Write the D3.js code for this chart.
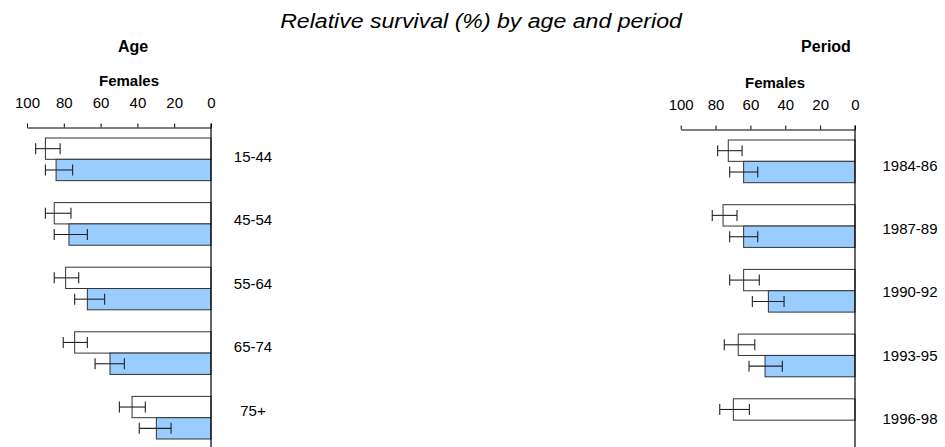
<!DOCTYPE html>
<html><head><meta charset="utf-8">
<script src="https://cdn.jsdelivr.net/npm/d3@7"></script>
<style>
body{margin:0;background:#fff;}
svg{display:block;font-family:"Liberation Sans",Arial,Helvetica,sans-serif;}
</style></head>
<body><svg id="c" width="945" height="447"></svg>
<script>
// ---- data ----
const ageGroups = ["15-44","45-54","55-64","65-74","75+"];
const ageSurv5  = [90.0, 85.2, 79.0, 74.1, 42.9];
const ageLo5    = [82.0, 76.1, 71.9, 67.2, 35.7];
const ageHi5    = [95.3, 90.0, 85.2, 80.3, 49.8];
const ageSurv10 = [84.2, 77.2, 67.2, 54.9, 29.7];
const ageLo10   = [75.2, 67.2, 57.8, 47.1, 21.7];
const ageHi10   = [90.0, 85.2, 74.1, 63.0, 39.0];

const periods      = ["1984-86","1987-89","1990-92","1993-95","1996-98"];
const perSurv5  = [72.7, 75.7, 63.9, 67.0, 69.8];
const perLo5    = [64.8, 67.7, 54.9, 57.5, 60.6];
const perHi5    = [78.8, 81.9, 71.9, 75.0, 77.6];
const perSurv10 = [63.9, 63.9, 49.7, 51.6, null];
const perLo10   = [55.8, 55.8, 40.7, 41.7, null];
const perHi10   = [71.9, 71.9, 58.9, 60.8, null];

const tickValues = [100, 80, 60, 40, 20, 0];
const title = "Relative survival (%) by age and period";

// ---- drawing ----
const svg = d3.select("#c");
const W = 945, H = 447;
const FONT = '"Liberation Sans",Arial,Helvetica,sans-serif';

svg.append("text").attr("transform","translate(481,28) scale(1.1,1)").attr("text-anchor","middle")
  .attr("font-style","italic").attr("font-size", 21).text(title);

function panel(cfg){
  const g = svg.append("g");
  const x = d3.scaleLinear().domain([0,100]).range(cfg.xr);
  const y = d3.scaleBand().domain(cfg.cats).range(cfg.yr).paddingInner(0.34).paddingOuter(0).align(0);
  const sub = d3.scaleBand().domain(["s5","s10"]).range([0, y.bandwidth()]);
  const lab = d3.scalePoint().domain(cfg.cats).range(cfg.labr);

  // header texts
  g.append("text").attr("x", cfg.headX).attr("y", cfg.headY).attr("text-anchor","middle")
    .attr("font-weight","bold").attr("font-size", 16).text(cfg.head);
  g.append("text").attr("x", cfg.femX).attr("y", cfg.femY).attr("text-anchor","middle")
    .attr("font-weight","bold").attr("font-size", 15).text("Females");

  // axis
  const ax = g.append("g").attr("transform", `translate(0,${cfg.axisY})`)
    .call(d3.axisTop(x).tickValues(tickValues).tickSize(4).tickSizeOuter(0).tickPadding(15.5));
  ax.selectAll("text").attr("font-size", 15).attr("font-family", FONT).attr("fill","#000");
  ax.selectAll("line,path").attr("stroke","#000");

  const rows = cfg.cats.map((c,i)=>({c, i}));
  const series = [
    {k:"s5",  v:cfg.s5,  lo:cfg.lo5,  hi:cfg.hi5,  fill:"#ffffff"},
    {k:"s10", v:cfg.s10, lo:cfg.lo10, hi:cfg.hi10, fill:"#99ccff"}
  ];
  series.forEach(s=>{
    const d = rows.filter(r=>s.v[r.i]!=null);
    g.selectAll(null).data(d).enter().append("rect")
      .attr("x", r=>x(s.v[r.i])).attr("width", r=>x(0)-x(s.v[r.i]))
      .attr("y", r=>y(r.c)+sub(s.k)).attr("height", sub.bandwidth())
      .attr("fill", s.fill).attr("stroke","#333").attr("stroke-width",1);
    const eb = g.selectAll(null).data(d).enter().append("g")
      .attr("transform", r=>`translate(0,${y(r.c)+sub(s.k)+sub.bandwidth()/2})`)
      .attr("stroke","#222").attr("stroke-width",1.1);
    eb.append("line").attr("x1", r=>x(s.lo[r.i])).attr("x2", r=>x(s.hi[r.i])).attr("y1",0).attr("y2",0);
    eb.append("line").attr("x1", r=>x(s.lo[r.i])).attr("x2", r=>x(s.lo[r.i])).attr("y1",-5.5).attr("y2",5.5);
    eb.append("line").attr("x1", r=>x(s.hi[r.i])).attr("x2", r=>x(s.hi[r.i])).attr("y1",-5.5).attr("y2",5.5);
  });

  // zero line
  g.append("line").attr("x1", x(0)).attr("x2", x(0)).attr("y1", cfg.axisY-4).attr("y2", H)
    .attr("stroke","#000").attr("stroke-width",1.2);

  // category labels
  g.selectAll(null).data(cfg.cats).enter().append("text")
    .attr("x", cfg.labX).attr("y", c=>lab(c)).attr("dy","0.35em")
    .attr("text-anchor","middle").attr("font-size", 15).text(c=>c);
}

panel({cats: ageGroups, s5: ageSurv5, lo5: ageLo5, hi5: ageHi5, s10: ageSurv10, lo10: ageLo10, hi10: ageHi10,
  xr:[211,27], yr:[138,439], labr:[156.7,410.7], labX:253, axisY:127.5,
  head:"Age", headX:133, headY:52, femX:129, femY:86});
panel({cats: periods, s5: perSurv5, lo5: perLo5, hi5: perHi5, s10: perSurv10, lo10: perLo10, hi10: perHi10,
  xr:[855,680.7], yr:[140,441.5], labr:[165.3,419], labX:910, axisY:129.5,
  head:"Period", headX:826, headY:52, femX:775, femY:88});
</script></body></html>
